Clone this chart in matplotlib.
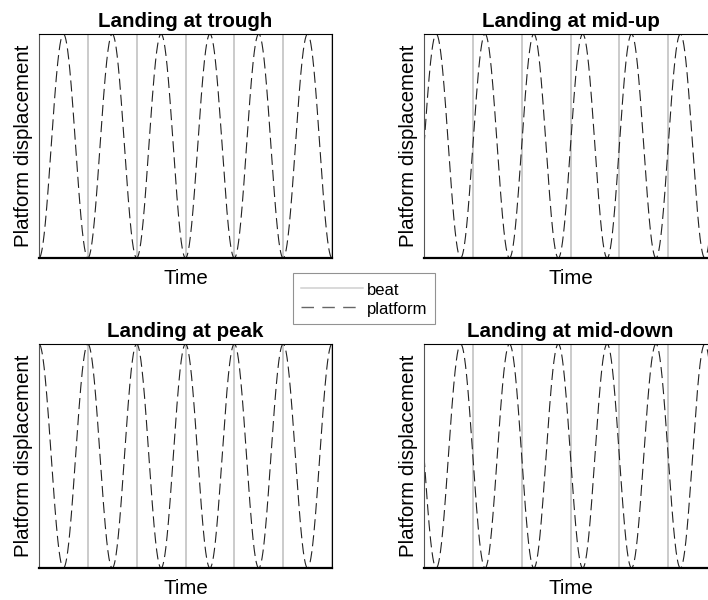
import numpy as np
import matplotlib
matplotlib.use("Agg")
import matplotlib.pyplot as plt
from matplotlib.lines import Line2D

plt.rcParams['font.family'] = ['Liberation Sans', 'DejaVu Sans']

# ---- data ----
beat_times = [0, 1, 2, 3, 4, 5, 6]          # beat onsets (beat periods)
panel_titles = ["Landing at trough", "Landing at mid-up",
                "Landing at peak", "Landing at mid-down"]
panel_phase_deg = [270, 0, 90, 180]         # platform phase at beat (sin-based)
platform_period = 1.0                        # platform period in beat periods
x_label = "Time"
y_label = "Platform displacement"
legend_labels = ["beat", "platform"]

fig = plt.figure(figsize=(7.08, 6.00), dpi=100)
W, H = 708, 600
# axes boxes in pixels (left, top, right, bottom)
boxes = [(39, 34, 332, 258), (424, 34, 717, 258),
         (39, 344, 332, 568), (424, 344, 717, 568)]

t = np.linspace(beat_times[0], beat_times[-1], 2000)
for title, ph, (l, tp, r, b) in zip(panel_titles, panel_phase_deg, boxes):
    ax = fig.add_axes([l / W, 1 - b / H, (r - l) / W, (b - tp) / H])
    for bt in beat_times:
        ax.axvline(bt, color='#c2c2c2', lw=1.2, zorder=1)
    y = np.sin(2 * np.pi * t / platform_period + np.deg2rad(ph))
    ax.plot(t, y, color='#222222', lw=0.8, dashes=(10, 4.5), zorder=2)
    ax.set_xlim(beat_times[0], beat_times[-1])
    ax.set_ylim(-1, 1)
    ax.set_xticks([])
    ax.set_yticks([])
    for s in ['top', 'right']:
        ax.spines[s].set_linewidth(0.8)
    ax.spines['left'].set_linewidth(0.8)
    ax.spines['left'].set_color('#555555')
    ax.spines['bottom'].set_linewidth(1.6)
    ax.spines['bottom'].set_color('black')
    ax.set_title(title, fontsize=14.8, fontweight='bold', pad=5)
    ax.set_xlabel(x_label, fontsize=14.8, labelpad=8)
    ax.set_ylabel(y_label, fontsize=14.8, labelpad=4)

h_beat = Line2D([], [], color='#d0d0d0', lw=1.1)
h_plat = Line2D([], [], color='#666666', lw=1.0, dashes=(9, 6))
leg = fig.legend([h_beat, h_plat], legend_labels,
                 loc='upper left', bbox_to_anchor=(293 / W, 1 - 273 / H),
                 fontsize=12, frameon=True, fancybox=False,
                 handlelength=3.72, handleheight=1.22, handletextpad=0.26,
                 borderpad=0.45, labelspacing=0.1, borderaxespad=0)
leg.get_frame().set_edgecolor('#777777')
leg.get_frame().set_linewidth(0.8)

fig.savefig("out.png", dpi=100)
